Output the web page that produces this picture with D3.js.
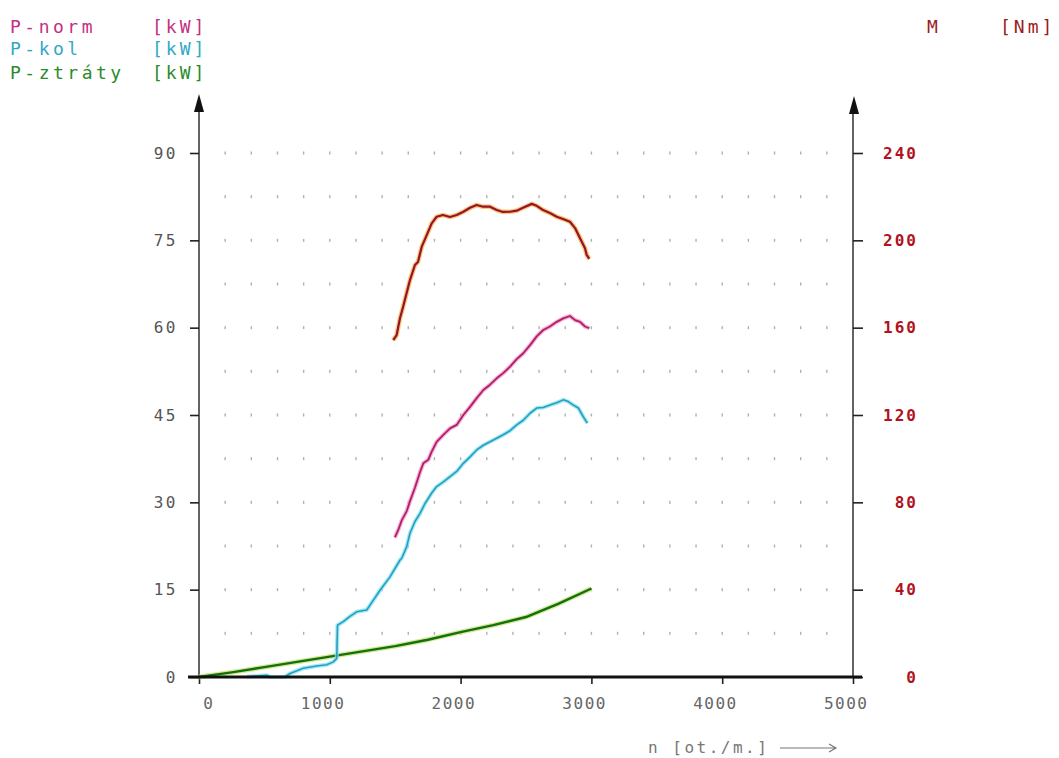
<!DOCTYPE html>
<html>
<head>
<meta charset="utf-8">
<script src="https://cdn.jsdelivr.net/npm/d3@7"></script>
<style>
  body { margin: 0; background: #fff; }
  svg { display: block; }
  text { font-family: "DejaVu Sans Mono", monospace; }
</style>
</head>
<body>
<div id="chart"></div>
<script>
// torque M [Nm]
const rpmTorque = [1485, 1511, 1537, 1560, 1613, 1651, 1674, 1703, 1741, 1779, 1817, 1865, 1919, 1970, 2018, 2072, 2123, 2171, 2225, 2276, 2324, 2378, 2429, 2477, 2544, 2582, 2630, 2683, 2735, 2783, 2836, 2875, 2913, 2951, 2964, 2984];
const torqueNm = [154.3, 156.6, 164.4, 169.5, 181.8, 188.7, 190.1, 197.1, 202.4, 207.8, 210.8, 211.6, 210.7, 211.6, 213.0, 214.9, 216.2, 215.4, 215.4, 213.9, 213.0, 213.1, 213.6, 214.9, 216.7, 215.8, 213.9, 212.5, 210.8, 209.8, 208.5, 205.6, 201.0, 196.4, 193.3, 191.5];

// P-norm [kW]
const rpmNorm = [1498, 1524, 1550, 1588, 1613, 1651, 1690, 1715, 1753, 1779, 1817, 1868, 1919, 1970, 2021, 2072, 2123, 2174, 2225, 2276, 2326, 2378, 2429, 2479, 2531, 2582, 2632, 2683, 2735, 2785, 2836, 2875, 2913, 2951, 2984];
const pNorm = [24.0, 25.3, 26.9, 28.5, 30.2, 32.5, 35.2, 36.7, 37.3, 38.7, 40.4, 41.6, 42.7, 43.3, 45.0, 46.4, 47.9, 49.3, 50.2, 51.3, 52.2, 53.3, 54.6, 55.6, 57.0, 58.5, 59.6, 60.2, 61.0, 61.6, 62.0, 61.3, 61.0, 60.2, 59.9];

// P-kol [kW]
const rpmKol = [365, 518, 543, 657, 696, 797, 900, 976, 1027, 1053, 1059, 1103, 1154, 1206, 1282, 1333, 1384, 1460, 1537, 1550, 1588, 1613, 1651, 1690, 1728, 1779, 1817, 1868, 1919, 1970, 2021, 2072, 2123, 2174, 2225, 2276, 2326, 2378, 2429, 2479, 2531, 2582, 2632, 2683, 2735, 2785, 2823, 2862, 2900, 2938, 2969];
const pKol = [0.05, 0.3, 0, 0, 0.6, 1.5, 1.9, 2.1, 2.6, 3.2, 8.9, 9.5, 10.4, 11.2, 11.5, 13.2, 14.9, 17.2, 20.1, 20.4, 22.4, 24.7, 26.7, 28.1, 29.8, 31.6, 32.7, 33.5, 34.4, 35.3, 36.7, 37.8, 39.0, 39.8, 40.4, 41.0, 41.6, 42.3, 43.3, 44.1, 45.3, 46.2, 46.3, 46.7, 47.1, 47.6, 47.3, 46.7, 46.2, 44.7, 43.6];

// P-ztraty [kW]
const rpmLoss = [0, 250, 500, 750, 1000, 1250, 1500, 1750, 2000, 2250, 2500, 2750, 3000];
const pLoss = [0, 0.8, 1.7, 2.6, 3.5, 4.4, 5.3, 6.4, 7.7, 8.9, 10.3, 12.6, 15.2];

const rpmTicks = [0, 1000, 2000, 3000, 4000, 5000];
const kwTicks = [0, 15, 30, 45, 60, 75, 90];
const nmTicks = [0, 40, 80, 120, 160, 200, 240];

const W = 1059, H = 758;
const svg = d3.select("#chart").append("svg")
  .attr("width", W)
  .attr("height", H);

const x = d3.scaleLinear().domain([0, 5000]).range([199, 853]);
const yP = d3.scaleLinear().domain([0, 90]).range([677, 153]);
const yM = d3.scaleLinear().domain([0, 240]).range([677, 153]);

// dotted grid
const gridRows = d3.range(7.5, 90.1, 7.5);
const gridCols = d3.range(200, 4900, 200);
const grid = svg.append("g");
gridRows.forEach((r) => {
  grid.selectAll(null)
    .data(gridCols)
    .enter()
    .append("rect")
    .attr("x", (d) => x(d) - 0.7)
    .attr("y", yP(r) - 1.5)
    .attr("width", 1.4)
    .attr("height", 3)
    .attr("fill", "#b0b0b0");
});

// axes
const axL = svg.append("g")
  .attr("transform", "translate(199,0)")
  .call(d3.axisLeft(yP).tickValues(kwTicks).tickSize(9).tickPadding(12));
const axR = svg.append("g")
  .attr("transform", "translate(853,0)")
  .call(d3.axisRight(yM).tickValues(nmTicks).tickSize(10).tickPadding(10));
const axB = svg.append("g")
  .attr("transform", "translate(0,677)")
  .call(d3.axisBottom(x).tickValues(rpmTicks).tickFormat(d3.format("d")).tickSize(7).tickPadding(14));

[axL, axR, axB].forEach((a) => {
  a.select(".domain").remove();
  a.selectAll("line").attr("stroke", "#222").attr("stroke-width", 1.6);
});

axL.selectAll("text")
  .attr("font-size", 16)
  .attr("letter-spacing", 2.5)
  .attr("fill", "#555");

axR.selectAll("text")
  .attr("text-anchor", "end")
  .attr("x", 65)
  .attr("font-size", 16)
  .attr("font-weight", "bold")
  .attr("letter-spacing", 2)
  .attr("fill", "#b0121e");

axB.selectAll("text")
  .attr("text-anchor", "end")
  .attr("x", 15)
  .attr("font-size", 16)
  .attr("letter-spacing", 1.5)
  .attr("fill", "#666");

// axis lines
svg.append("line")
  .attr("x1", 199).attr("x2", 199).attr("y1", 677).attr("y2", 104)
  .attr("stroke", "#222").attr("stroke-width", 1.4);
svg.append("line")
  .attr("x1", 853).attr("x2", 853).attr("y1", 677).attr("y2", 104)
  .attr("stroke", "#222").attr("stroke-width", 1.4);
svg.append("path")
  .attr("d", "M199,94 L194,112 L204,112 Z")
  .attr("fill", "#111");
svg.append("path")
  .attr("d", "M854,96 L849,114 L859,114 Z")
  .attr("fill", "#111");

// curves
const lineP = (xs, ys, yScale) => d3.line()
  .x((d, i) => x(xs[i]))
  .y((d) => yScale(d))(ys);

function curve(xs, ys, yScale, halo, main, w) {
  svg.append("path")
    .attr("d", lineP(xs, ys, yScale))
    .attr("fill", "none")
    .attr("stroke", halo)
    .attr("stroke-width", w + 2.5)
    .attr("stroke-linejoin", "round")
    .attr("opacity", 0.75);
  svg.append("path")
    .attr("d", lineP(xs, ys, yScale))
    .attr("fill", "none")
    .attr("stroke", main)
    .attr("stroke-width", w)
    .attr("stroke-linejoin", "round");
}

curve(rpmLoss, pLoss, yP, "#c8e070", "#11700f", 2.4);
curve(rpmKol, pKol, yP, "#7ee3f0", "#2a9cc0", 1.6);
curve(rpmNorm, pNorm, yP, "#f29ac8", "#b01e6a", 1.8);
curve(rpmTorque, torqueNm, yM, "#f5b848", "#961230", 2.2);

// bottom axis line drawn over curves
svg.append("line")
  .attr("x1", 188).attr("x2", 862).attr("y1", 677).attr("y2", 677)
  .attr("stroke", "#111").attr("stroke-width", 3);

// legend
const legend = [
  { name: "P-norm", unit: "[kW]", color: "#c3307f", y: 33 },
  { name: "P-kol", unit: "[kW]", color: "#2fa8c8", y: 55 },
  { name: "P-ztráty", unit: "[kW]", color: "#2b8a2b", y: 79 },
];
legend.forEach((l) => {
  svg.append("text")
    .attr("x", 10).attr("y", l.y)
    .attr("font-size", 18).attr("letter-spacing", 3.5)
    .attr("fill", l.color).text(l.name);
  svg.append("text")
    .attr("x", 152).attr("y", l.y)
    .attr("font-size", 18).attr("letter-spacing", 3)
    .attr("fill", l.color).text(l.unit);
});
svg.append("text")
  .attr("x", 927).attr("y", 33)
  .attr("font-size", 18)
  .attr("fill", "#9a1c1c").text("M");
svg.append("text")
  .attr("x", 1000).attr("y", 33)
  .attr("font-size", 18).attr("letter-spacing", 3)
  .attr("fill", "#9a1c1c").text("[Nm]");

// x label
svg.append("text")
  .attr("x", 648).attr("y", 753)
  .attr("font-size", 16).attr("letter-spacing", 2.5)
  .attr("fill", "#777").text("n [ot./m.]");
svg.append("path")
  .attr("d", "M780,748 L836,748 M829,744 L836,748 L829,752")
  .attr("fill", "none").attr("stroke", "#777").attr("stroke-width", 1.2);
</script>
</body>
</html>
